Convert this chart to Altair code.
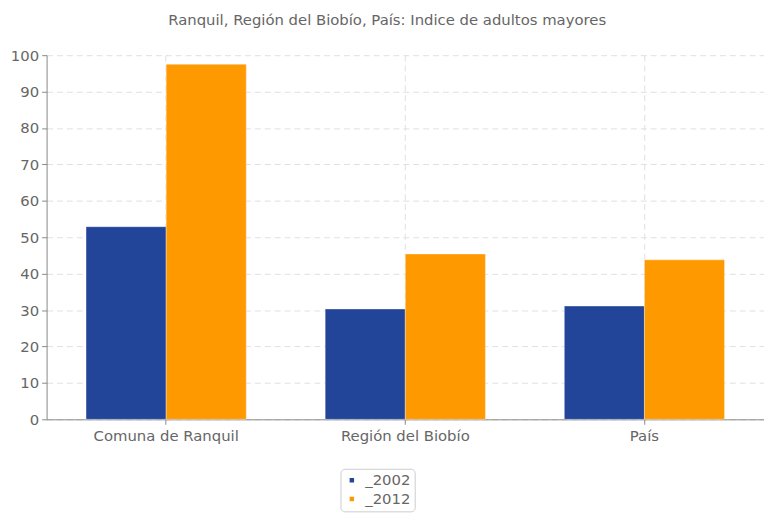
import altair as alt
import pandas as pd

categories = ["Comuna de Ranquil", "Región del Biobío", "País"]
series = ["_2002", "_2012"]
values_2002 = [52.9, 30.3, 31.1]
values_2012 = [97.5, 45.4, 43.8]
colors = ["#22459a", "#ff9900"]

rows = []
for c, v1, v2 in zip(categories, values_2002, values_2012):
    rows.append({"cat": c, "serie": series[0], "val": v1})
    rows.append({"cat": c, "serie": series[1], "val": v2})
df = pd.DataFrame(rows)

font = "DejaVu Sans"

chart = alt.Chart(df).mark_bar(stroke="#ffffff", strokeOpacity=0.35, strokeWidth=1).encode(
    x=alt.X("cat:N", sort=categories, title="x",
            scale=alt.Scale(paddingInner=0.33, paddingOuter=0.165),
            axis=alt.Axis(labelAngle=0, labelFontSize=15, labelColor="#666666", labelFont=font,
                          domainColor="#888888", tickColor="#888888", tickSize=5,
                          grid=True, gridDash=[6, 4], gridColor="#e0e0e0", bandPosition=0.5,
                          labelPadding=4, titleOpacity=0, titleFontSize=15, titlePadding=54)),
    xOffset=alt.XOffset("serie:N", sort=series),
    y=alt.Y("val:Q", title=None,
            scale=alt.Scale(domain=[0, 100], nice=False),
            axis=alt.Axis(values=list(range(0, 101, 10)), labelFontSize=15, labelColor="#666666",
                          labelFont=font, domainColor="#888888", tickColor="#888888", tickSize=5,
                          gridDash=[6, 4], gridColor="#e0e0e0", labelPadding=3)),
    color=alt.Color("serie:N", sort=series, title=None,
                    scale=alt.Scale(domain=series, range=colors),
                    legend=alt.Legend(orient="none", legendX=297, legendY=418,
                                      symbolType="square", symbolSize=36,
                                      labelFontSize=15, labelColor="#666666", labelFont=font,
                                      strokeColor="#cccccc", padding=4, cornerRadius=4,
                                      fillColor="#ffffff", rowPadding=3, labelOffset=6)),
).properties(
    width=764,
    height=506,
    autosize=alt.AutoSizeParams(type="fit", contains="padding"),
    title=alt.Title("Ranquil, Región del Biobío, País: Indice de adultos mayores",
                    fontSize=15, color="#666666", font=font, fontWeight="normal",
                    anchor="middle", frame="bounds", offset=21),
    padding={"left": 2, "top": 2, "right": 0, "bottom": 0},
).configure_view(stroke=None)

chart.save("out.html", embed_options={"renderer": "svg", "actions": False})
